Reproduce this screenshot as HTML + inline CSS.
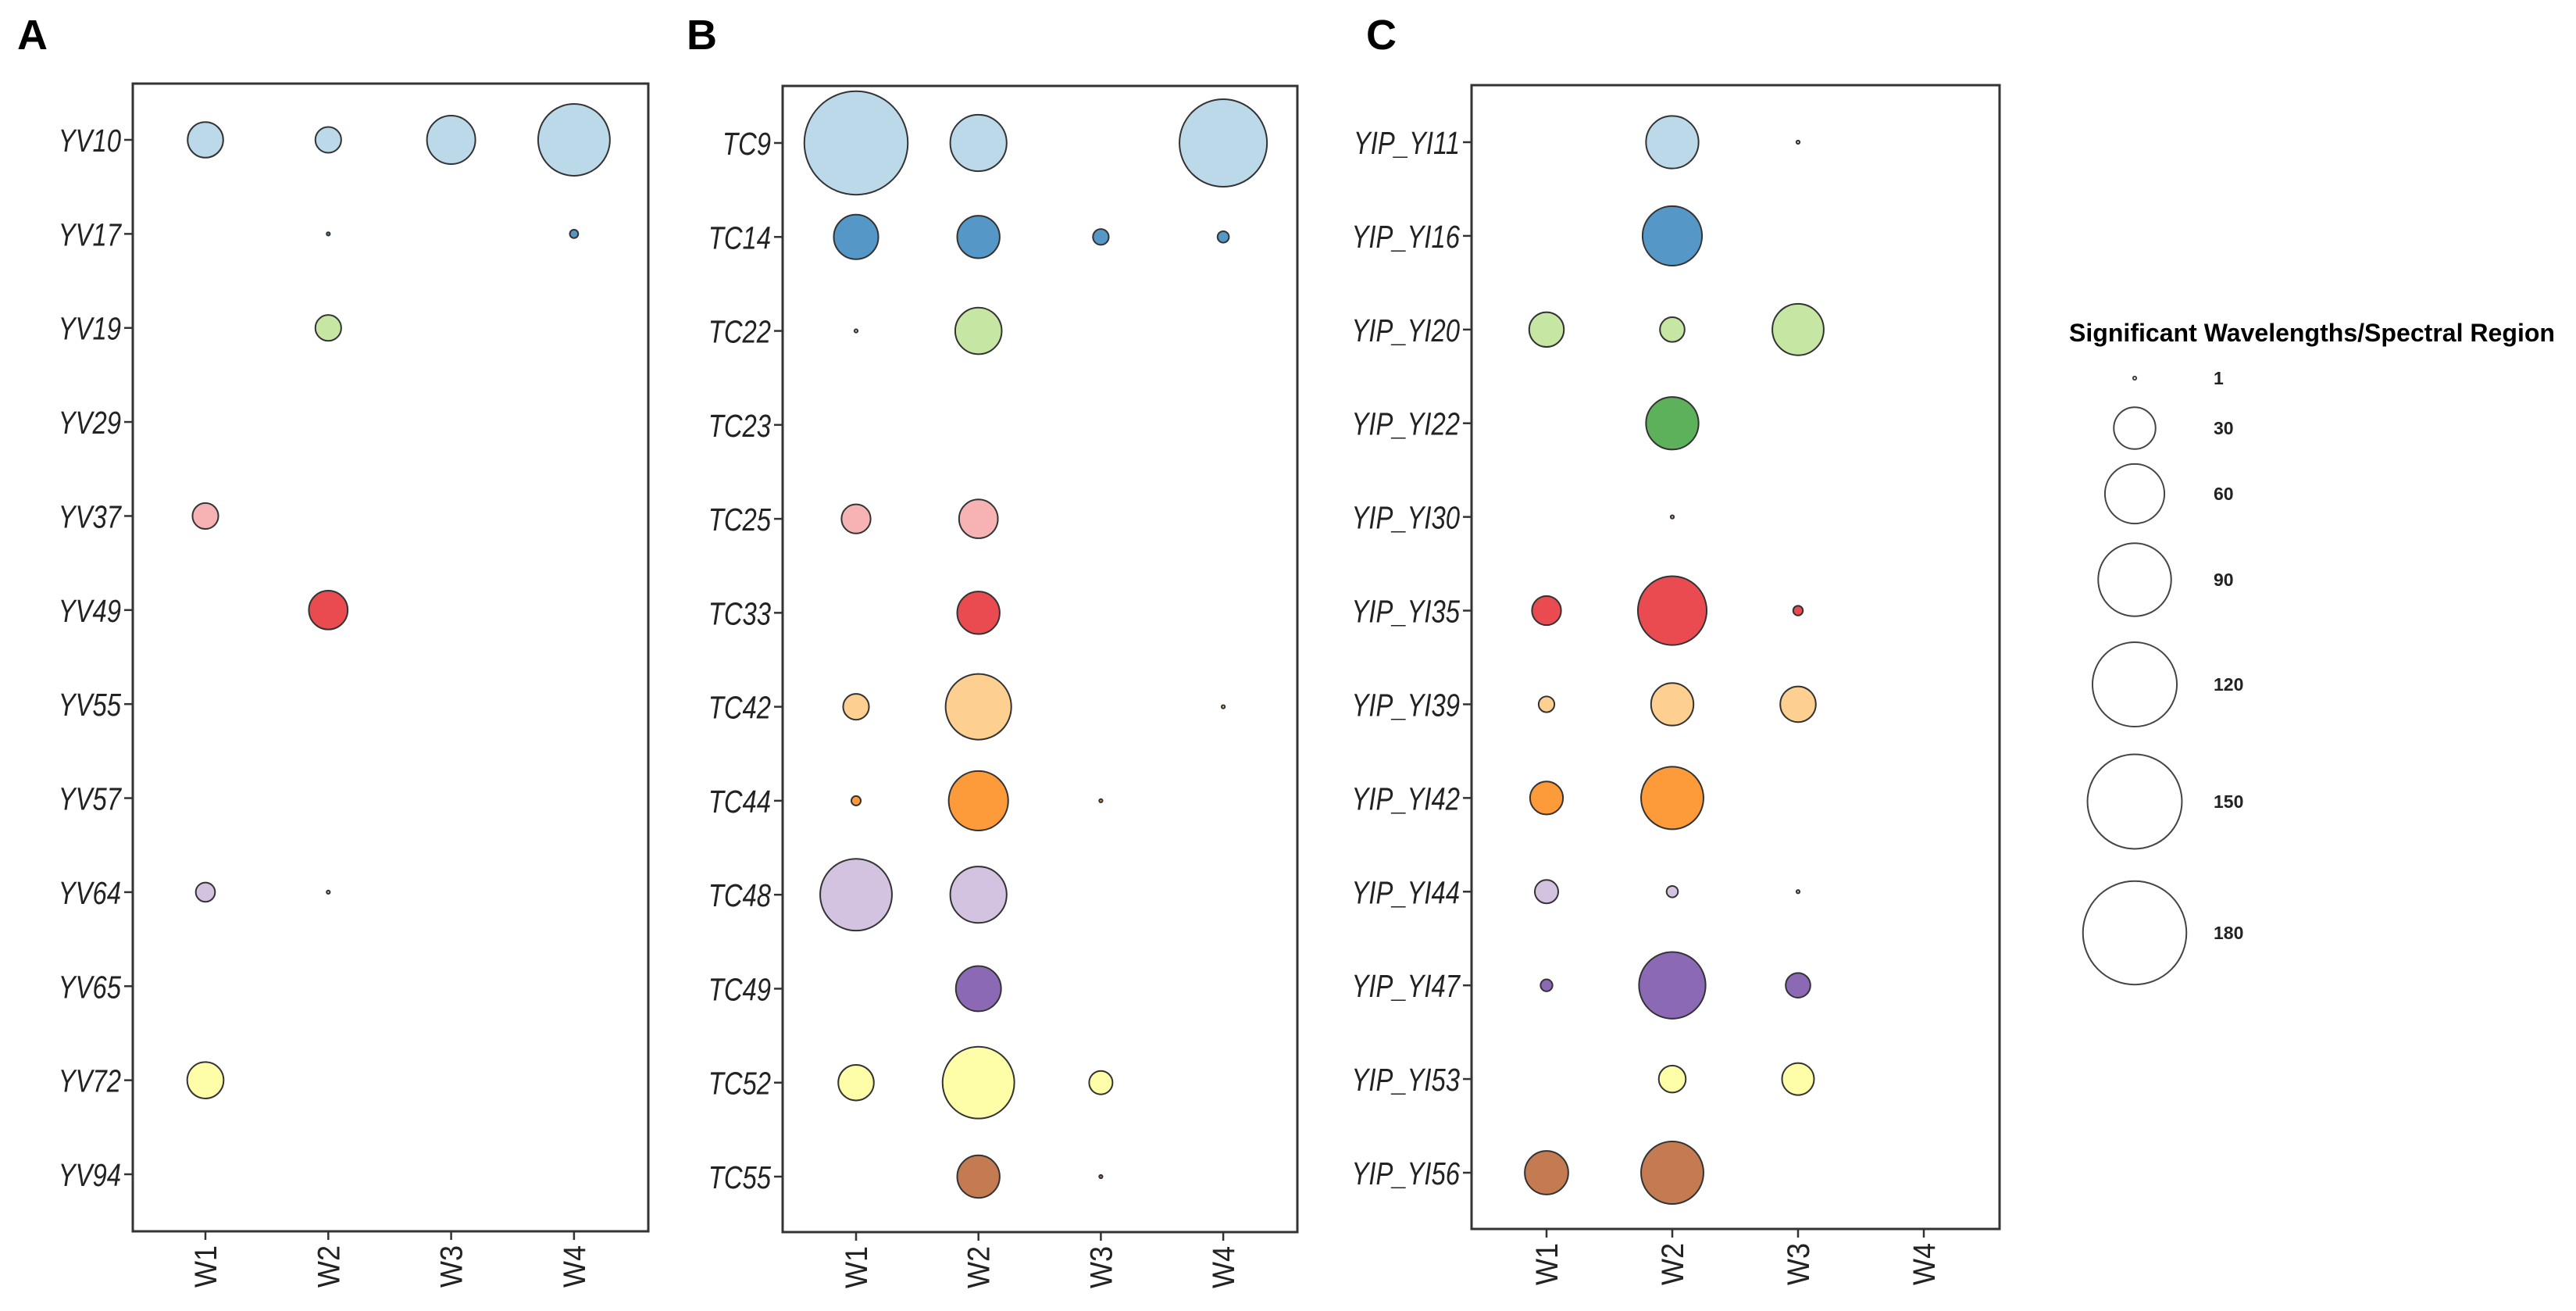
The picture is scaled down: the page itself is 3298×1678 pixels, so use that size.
<!DOCTYPE html>
<html><head><meta charset="utf-8">
<style>
html,body{margin:0;padding:0;background:#fff;}
svg{display:block;}
text{font-family:"Liberation Sans",Arial,sans-serif;}
</style></head>
<body>
<svg id="chart" width="3298" height="1678" viewBox="0 0 3298 1678" xmlns="http://www.w3.org/2000/svg">
<text x="22" y="63" font-size="54" font-weight="bold">A</text>
<text x="879" y="63" font-size="54" font-weight="bold">B</text>
<text x="1749" y="63" font-size="54" font-weight="bold">C</text>
<g id="legend">
<text x="2649" y="437" font-size="32" font-weight="bold" textLength="622" lengthAdjust="spacingAndGlyphs">Significant Wavelengths/Spectral Region</text>
</g>
</svg>
<script>
const NS = 'http://www.w3.org/2000/svg';
const svg = document.getElementById('chart');
const legendG = document.getElementById('legend');

const weeks = ['W1','W2','W3','W4'];
const rowColors = ['#bcd9ea','#5597c6','#c6e6a4','#5db15a','#f7b2b4','#e94b51','#fdcf90','#fd9a39','#d4c3e0','#8c69b5','#fffea8','#c47b51'];

const catsA = ['YV10','YV17','YV19','YV29','YV37','YV49','YV55','YV57','YV64','YV65','YV72','YV94'];
const valsA = [
 [22,12,40,87],[0,1,0,2],[0,12,0,0],[0,0,0,0],[12,0,0,0],[0,26,0,0],
 [0,0,0,0],[0,0,0,0],[7,1,0,0],[0,0,0,0],[23,0,0,0],[0,0,0,0]];

const catsB = ['TC9','TC14','TC22','TC23','TC25','TC33','TC42','TC44','TC48','TC49','TC52','TC55'];
const valsB = [
 [180,54,0,129],[34,31,5,3],[1,37,0,0],[0,0,0,0],[15,26,0,0],[0,31,0,0],
 [12,73,0,1],[2.3,60,1,0],[87,54,0,0],[0,35,0,0],[22,87,10,0],[0,31,1,0]];

const catsC = ['YIP_YI11','YIP_YI16','YIP_YI20','YIP_YI22','YIP_YI30','YIP_YI35','YIP_YI39','YIP_YI42','YIP_YI44','YIP_YI47','YIP_YI53','YIP_YI56'];
const valsC = [
 [0,47,1,0],[0,60,0,0],[21,11,45,0],[0,47,0,0],[0,1,0,0],[15,80,2.4,0],
 [5,31,22,0],[19,66,0,0],[10,3,1,0],[3.2,75,11,0],[0,13,18,0],[32.5,66,0,0]];

const legendVals = [1,30,60,90,120,150,180];
const legendLabels = ['1','30','60','90','120','150','180'];

function rScale(v){ return Math.sqrt(Math.max(24.5*v - 20, 2)); }

const panels = [
 {id:'a', cats:catsA, vals:valsA, left:170, right:830, top:107, bottom:1576, y0:179, y1:1503, x0:263, dx:157.3},
 {id:'b', cats:catsB, vals:valsB, left:1002, right:1661, top:110, bottom:1577, y0:183, y1:1506, x0:1096, dx:156.7},
 {id:'c', cats:catsC, vals:valsC, left:1884, right:2560, top:109, bottom:1573, y0:182, y1:1501, x0:1980, dx:161}
];

function mk(tag, attrs, parent){
  const e = document.createElementNS(NS, tag);
  for (const k in attrs) e.setAttribute(k, attrs[k]);
  (parent||svg).appendChild(e);
  return e;
}

panels.forEach(p => {
  const g = mk('g', {});
  
  
  const yPos = i => p.y0 + i*(p.y1 - p.y0)/(p.cats.length - 1);
  const xPos = j => p.x0 + j*p.dx;

  const frame = mk('rect', {x:p.left, y:p.top, width:p.right-p.left, height:p.bottom-p.top, fill:'none', stroke:'#333', 'stroke-width':3}, g);
  
  

  p.cats.forEach((c, i) => {
    const y = yPos(i);
    const t = mk('line', {x1:p.left-11, x2:p.left, y1:y, y2:y, stroke:'#333', 'stroke-width':2.5}, g);
    
    
    const lab = mk('text', {x:0, y:0, 'font-size':41, 'font-style':'italic', 'text-anchor':'end', fill:'#222', transform:'translate('+(p.left-15)+','+(y+15)+') scale(0.8,1)'}, g);
    lab.textContent = c;
    
    
  });

  weeks.forEach((w, j) => {
    const x = xPos(j);
    const t = mk('line', {x1:x, x2:x, y1:p.bottom, y2:p.bottom+11, stroke:'#333', 'stroke-width':2.5}, g);
    
    
    const lab = mk('text', {x:0, y:0, 'font-size':40, 'text-anchor':'end', fill:'#222', transform:'translate('+(x+14)+','+(p.bottom+18)+') rotate(-90) scale(0.9,1)'}, g);
    lab.textContent = w;
    
    
  });

  p.vals.forEach((row, i) => {
    row.forEach((v, j) => {
      if (!v) return;
      const b = mk('circle', {cx:xPos(j), cy:yPos(i), r:rScale(v), fill:rowColors[i], stroke:'#333', 'stroke-width':2}, g);
      
      
    });
  });
});

const legendY = [484,548,632,742,876,1026,1194];
legendVals.forEach((v, k) => {
  const c = mk('circle', {cx:2733, cy:legendY[k], r:rScale(v), fill:'none', stroke:'#444', 'stroke-width':2}, legendG);
  
  
  const t = mk('text', {x:2834, y:legendY[k]+8, 'font-size':23, 'font-weight':'bold', fill:'#222'}, legendG);
  t.textContent = legendLabels[k];
  
  
});
</script>
</body></html>
